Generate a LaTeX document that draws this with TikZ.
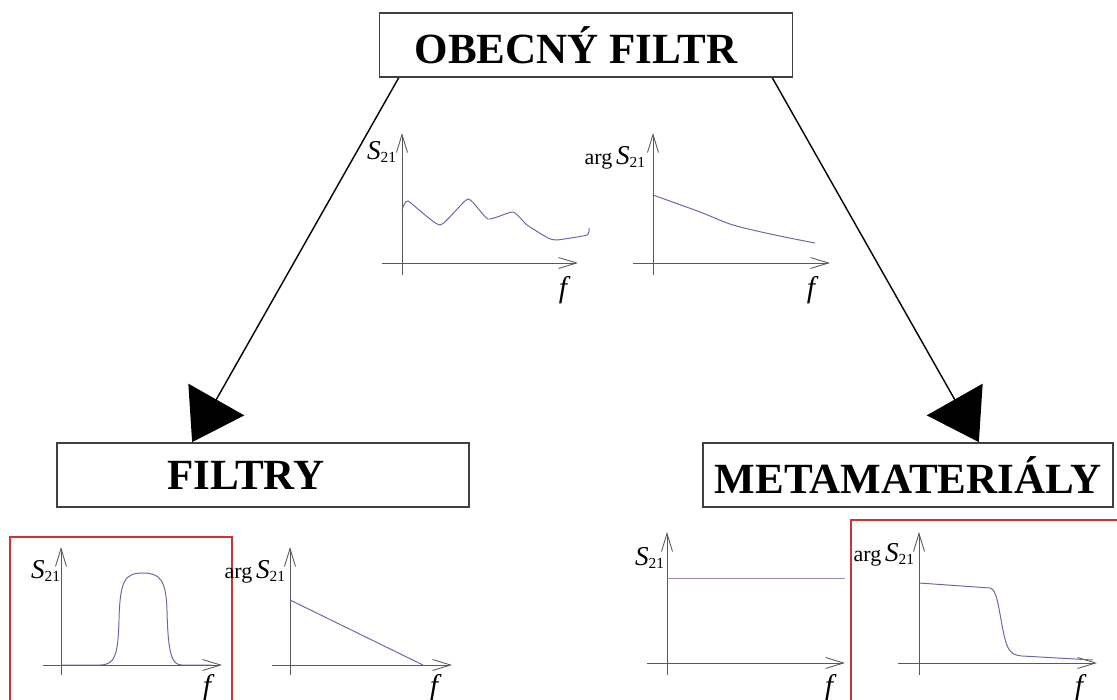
\documentclass[tikz,border=0pt]{standalone}
\usepackage{fontspec}
\setmainfont{Liberation Serif}
\usetikzlibrary{arrows.meta}

\newcommand{\Sij}{{\fontsize{15.5}{17}\selectfont\textit{S}}\textsubscript{21}}

\begin{document}
\begin{tikzpicture}[x=0.02cm, y=-0.02cm,
    every node/.style={font=\fontsize{12.5}{14}\selectfont, inner sep=1pt},
    titlebox/.style={draw=black!75, line width=1pt, minimum height=1.28cm, inner sep=0pt,
      font=\fontsize{24.5}{28}\selectfont\bfseries},
    axis/.style={draw=black!65, line width=0.5pt, -{Straight Barb[length=3.6mm, width=2.2mm]}},
    curve/.style={draw=blue!45!black!60, line width=0.55pt},
    redframe/.style={draw=red!75!black!80, line width=0.8pt},
    big/.style={line width=0.8pt, -{Triangle[width=1.28cm, length=0.98cm]}},
    flab/.style={font=\fontsize{17}{18}\selectfont\itshape}]
  \useasboundingbox (0,0) rectangle (1117,700);

  % boxes
  \node[titlebox, minimum width=8.26cm] (obecny) at (586,45) {OBECNÝ FILTR\hspace*{0.4cm}};
  \node[titlebox, minimum width=8.24cm] (filtry) at (263,475) {FILTRY\hspace*{0.68cm}};
  \node[titlebox, minimum width=8.2cm] (meta) at (908,475) {METAMATERIÁLY};

  \draw[big] ([xshift=0.4cm]obecny.south west) -- ([xshift=2.72cm]filtry.north west);
  \draw[big] ([xshift=-0.42cm]obecny.south east) -- ([xshift=-2.7cm]meta.north east);

  % obecny filtr: S21
  \draw[axis] (402,275) -- (402,133);
  \draw[axis] (382,263) -- (578,263);
  \node (s1) at (382,152) {\Sij};
  \node[flab] (f1) at (563,290) {f};
  \draw[curve] plot[smooth, tension=0.3] coordinates {(402,210) (408,201) (440,225) (468,199)
    (488,219) (513,212) (527,225) (548,238) (557,240) (587,235) (589,228)};

  % obecny filtr: arg S21
  \draw[axis] (653,275) -- (653,133);
  \draw[axis] (633,263) -- (830,263);
  \node[anchor=east] (a1) at (648,158) {arg\,\Sij};
  \node[flab] (f2) at (811,290) {f};
  \draw[curve] plot[smooth] coordinates {(653,195) (700,212) (733,225) (775,235) (815,243)};

  % filtry
  \draw[redframe] (10,700) -- (10,537) -- (232,537) -- (232,700);
  \draw[axis] (61,675) -- (61,547);
  \draw[axis] (43,665) -- (222,665);
  \node (s2) at (46,571) {\Sij};
  \node[flab] (f3) at (207,688) {f};
  \draw[curve] (61,665) -- (100,665) .. controls (115,665) and (118,655) .. (119,620)
    .. controls (120,580) and (125,573) .. (143,573) .. controls (160,573) and (166,580) .. (167,610)
    .. controls (168,655) and (172,665) .. (182,665) -- (212,665);

  \draw[axis] (290,675) -- (290,547);
  \draw[axis] (272,665) -- (452,665);
  \node[anchor=east] (a2) at (288,572) {arg\,\Sij};
  \node[flab] (f4) at (434,688) {f};
  \draw[curve] (290,600) -- (423,665);

  % metamaterialy
  \draw[axis] (667,675) -- (667,532);
  \draw[axis] (647,663) -- (845,663);
  \node (s3) at (650,558) {\Sij};
  \node[flab] (f5) at (829,688) {f};
  \draw[curve, draw=blue!35!black!45] (667,578) -- (845,578);

  \draw[redframe] (1117,520) -- (851,520) -- (851,700);
  \draw[axis] (919,675) -- (919,532);
  \draw[axis] (898,663) -- (1097,663);
  \node[anchor=east] (a3) at (917,555) {arg\,\Sij};
  \node[flab] (f6) at (1079,688) {f};
  \draw[curve] (919,583) -- (990,588) .. controls (997,590) and (998,605) .. (1003,630)
    .. controls (1007,650) and (1010,655) .. (1022,656) -- (1093,660);
\end{tikzpicture}
\end{document}
